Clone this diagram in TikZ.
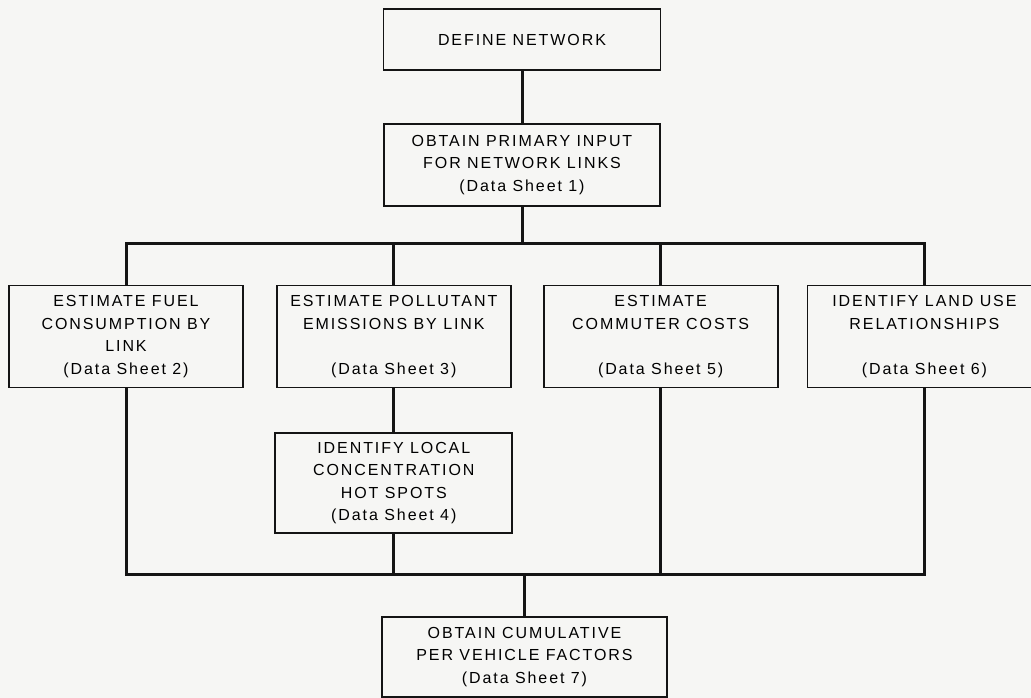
\documentclass[tikz,border=0pt]{standalone}
\usepackage{fontspec}
\newfontfamily\flowfont[LetterSpace=12]{Liberation Sans}
\usetikzlibrary{positioning}

\definecolor{paper}{RGB}{246,246,244}
\definecolor{ink}{RGB}{20,20,20}

\tikzset{
  stepbox/.style={draw=ink, fill=paper, line width=1.8pt, align=center, inner sep=0pt,
    minimum width=234pt, minimum height=102pt,
    font=\flowfont\fontsize{16}{22.5}\selectfont},
  link/.style={draw=ink, line width=3pt}
}

\begin{document}
\begin{tikzpicture}[x=1pt, y=-1pt]
\fill[paper] (0,0) rectangle (1031,698);
\useasboundingbox (0,0) rectangle (1031,698);

\node[stepbox, minimum width=277pt, minimum height=61pt] (define) at (522,39.5) {DEFINE NETWORK};
\node[stepbox, minimum width=276pt, minimum height=82pt, below=52pt of define] (primary) {OBTAIN PRIMARY INPUT\\FOR NETWORK LINKS\\(Data Sheet 1)};

% row of estimates
\node[stepbox] (fuel) at (126,336.5) {ESTIMATE FUEL\\CONSUMPTION BY\\LINK\\(Data Sheet 2)};
\node[stepbox, right=32pt of fuel] (pollutant) {ESTIMATE POLLUTANT\\EMISSIONS BY LINK\\[22.5pt](Data Sheet 3)};
\node[stepbox, right=31pt of pollutant] (commuter) {ESTIMATE\\COMMUTER COSTS\\[22.5pt](Data Sheet 5)};
\node[stepbox, right=28pt of commuter] (land) {IDENTIFY LAND USE\\RELATIONSHIPS\\[22.5pt](Data Sheet 6)};

\node[stepbox, minimum width=237pt, minimum height=100pt, below=44pt of pollutant] (hotspot) {IDENTIFY LOCAL\\CONCENTRATION\\HOT SPOTS\\(Data Sheet 4)};

\node[stepbox, minimum width=285pt, minimum height=80pt] (cumul) at (524.5,657) {OBTAIN CUMULATIVE\\PER VEHICLE FACTORS\\(Data Sheet 7)};

\coordinate (top-bus) at (522,243);
\coordinate (bottom-bus) at (524.5,574);

\draw[link] (define) -- (primary);
\draw[link] (primary) -- (top-bus);
\draw[link] (fuel.north) |- (top-bus) -| (land.north);
\draw[link] (pollutant.north) -- (pollutant.north |- top-bus);
\draw[link] (commuter.north) -- (commuter.north |- top-bus);
\draw[link] (pollutant) -- (hotspot);

\draw[link] (fuel.south) |- (bottom-bus) -| (land.south);
\draw[link] (hotspot.south) -- (hotspot.south |- bottom-bus);
\draw[link] (commuter.south) -- (commuter.south |- bottom-bus);
\draw[link] (bottom-bus) -- (cumul);

\end{tikzpicture}
\end{document}
